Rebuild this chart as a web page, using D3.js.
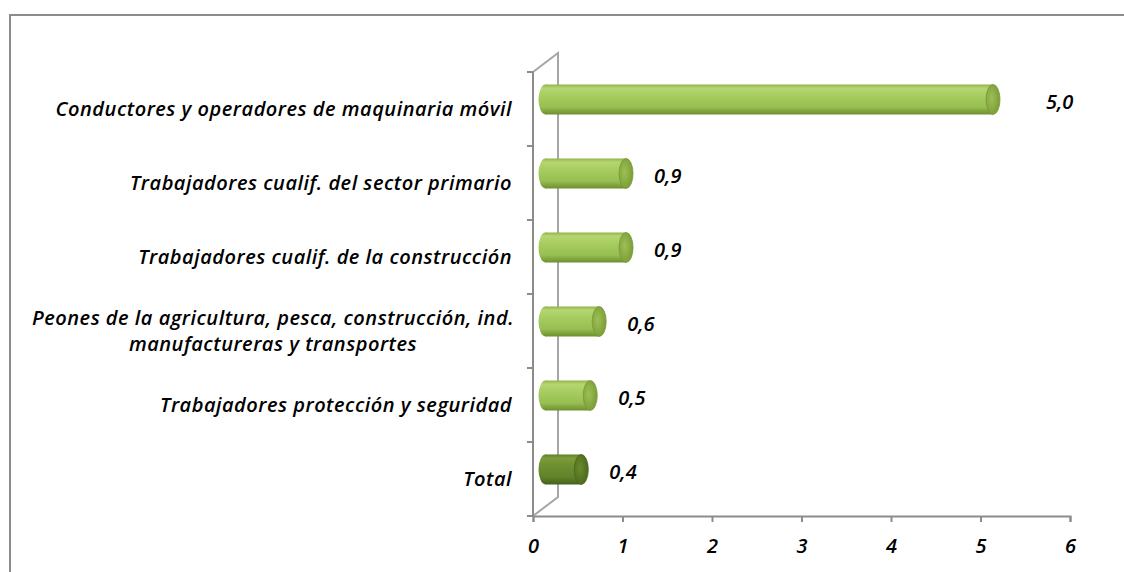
<!DOCTYPE html>
<html>
<head>
<meta charset="utf-8">
<script src="https://cdn.jsdelivr.net/npm/d3@7"></script>
<style>
  html, body { margin: 0; padding: 0; background: #fff; }
  svg { display: block; }
  text { font-family: "Open Sans", "Lato", sans-serif; font-style: italic; fill: #000; }
</style>
</head>
<body>
<svg id="chart" width="1124" height="572"></svg>
<script>
const categories = [
  "Conductores y operadores de maquinaria móvil",
  "Trabajadores cualif. del sector primario",
  "Trabajadores cualif. de la construcción",
  "Peones de la agricultura, pesca, construcción, ind.|manufactureras y transportes",
  "Trabajadores protección y seguridad",
  "Total"
];
const values = [5.0, 0.9, 0.9, 0.6, 0.5, 0.4];
const isTotal = [false, false, false, false, false, true];
const xTicks = [0, 1, 2, 3, 4, 5, 6];

const svg = d3.select("#chart");
const W = 1124, H = 572;

// outer frame
svg.append("path")
  .attr("d", `M10,${H} L10,15 L${W},15`)
  .attr("fill", "none").attr("stroke", "#8c8c8c").attr("stroke-width", 2);

const x = d3.scaleLinear().domain([0, 6]).range([533, 1070]);
const y = d3.scaleBand().domain(categories).range([72, 516]).padding(0);

const depthX = 25, depthY = -19;
const midDX = depthX / 2, midDY = depthY / 2;

const defs = svg.append("defs");
function bodyGrad(id, stops) {
  const g = defs.append("linearGradient").attr("id", id)
    .attr("x1", 0).attr("y1", 0).attr("x2", 0).attr("y2", 1);
  stops.forEach(s => g.append("stop").attr("offset", s[0]).attr("stop-color", s[1]));
}
bodyGrad("gLight", [[0, "#8fb447"], [0.12, "#b5d672"], [0.35, "#a8cd60"], [0.75, "#97bf51"], [1, "#6d8f2e"]]);
bodyGrad("gDark", [[0, "#5d7d25"], [0.12, "#7c9c3c"], [0.35, "#6f9032"], [0.75, "#62822a"], [1, "#44601a"]]);
function capGrad(id, c1, c2) {
  const g = defs.append("radialGradient").attr("id", id)
    .attr("cx", 0.4).attr("cy", 0.45).attr("r", 0.6);
  g.append("stop").attr("offset", 0).attr("stop-color", c1);
  g.append("stop").attr("offset", 1).attr("stop-color", c2);
}
capGrad("cLight", "#9dbf55", "#7a9d37");
capGrad("cDark", "#6a8a2e", "#4c6a1d");

// 3D wall lines
const wall = svg.append("g").attr("stroke", "#a6a6a6").attr("stroke-width", 2).attr("fill", "none");
wall.append("path")
  .attr("d", `M${x(0)},${y.range()[0]} L${x(0) + depthX},${y.range()[0] + depthY} L${x(0) + depthX},${y.range()[1] + depthY} L${x(0)},${y.range()[1]}`);

// left axis line and ticks
const axG = svg.append("g").attr("stroke", "#8c8c8c").attr("stroke-width", 2);
axG.append("line").attr("x1", x(0)).attr("x2", x(0)).attr("y1", y.range()[0]).attr("y2", y.range()[1]);
const bounds = categories.map(c => y(c)).concat([y.range()[1]]);
axG.selectAll("line.t").data(bounds).join("line").attr("class", "t")
  .attr("x1", x(0) - 6).attr("x2", x(0)).attr("y1", d => d).attr("y2", d => d);

// bottom axis
const xAxis = d3.axisBottom(x).tickValues(xTicks).tickSize(6).tickPadding(17).tickFormat(d3.format("d"));
const gx = svg.append("g").attr("transform", `translate(0,${y.range()[1]})`).call(xAxis);
gx.select(".domain").attr("stroke", "#8c8c8c").attr("stroke-width", 2);
gx.selectAll(".tick line").attr("stroke", "#8c8c8c").attr("stroke-width", 2);
gx.selectAll(".tick text").attr("font-size", 20).attr("font-weight", 600)
  .attr("font-family", "'Open Sans', sans-serif").attr("font-style", "italic").attr("fill", "#000");

// bars (cylinders)
const rx = 7, ry = 15;
const bars = svg.append("g").selectAll("g.bar").data(categories.map((c, i) => ({ c, v: values[i], t: isTotal[i] })))
  .join("g").attr("class", "bar");
bars.each(function (d) {
  const g = d3.select(this);
  const cy = y(d.c) + y.bandwidth() / 2 + midDY;
  const x0 = x(0) + midDX;
  const x1 = x(d.v) + midDX;
  const fill = d.t ? "url(#gDark)" : "url(#gLight)";
  g.append("ellipse").attr("cx", x0).attr("cy", cy).attr("rx", rx).attr("ry", ry).attr("fill", fill);
  g.append("rect").attr("x", x0).attr("y", cy - ry).attr("width", x1 - x0).attr("height", 2 * ry).attr("fill", fill);
  g.append("ellipse").attr("cx", x1).attr("cy", cy).attr("rx", rx).attr("ry", ry)
    .attr("fill", d.t ? "url(#cDark)" : "url(#cLight)")
    .attr("stroke", d.t ? "#4a661c" : "#789a36").attr("stroke-width", 0.8);
});

// value labels
const fmt = v => d3.format(".1f")(v).replace(".", ",");
svg.append("g").selectAll("text").data(categories.map((c, i) => ({ c, v: values[i] })))
  .join("text")
  .attr("x", d => x(d.v) + midDX + rx + (d.v >= 4 ? 46 : 21))
  .attr("y", d => y(d.c) + y.bandwidth() / 2 + midDY + 2)
  .attr("dy", "0.35em")
  .attr("font-size", 20).attr("font-weight", 600)
  .text(d => fmt(d.v));

// category labels
const lab = svg.append("g").selectAll("text").data(categories).join("text")
  .attr("font-size", 20).attr("font-weight", 600).attr("letter-spacing", 0.5)
  .attr("y", d => y(d) + y.bandwidth() / 2);
lab.each(function (d) {
  const t = d3.select(this);
  const lines = d.split("|");
  if (lines.length === 1) {
    t.attr("x", 512).attr("text-anchor", "end").attr("dy", "0.35em").text(d);
  } else {
    t.attr("x", 273).attr("text-anchor", "middle");
    lines.forEach((l, k) => {
      t.append("tspan").attr("x", 273)
        .attr("dy", k === 0 ? `${0.35 - 0.65 * (lines.length - 1)}em` : "1.3em")
        .text(l);
    });
  }
});
</script>
</body>
</html>
